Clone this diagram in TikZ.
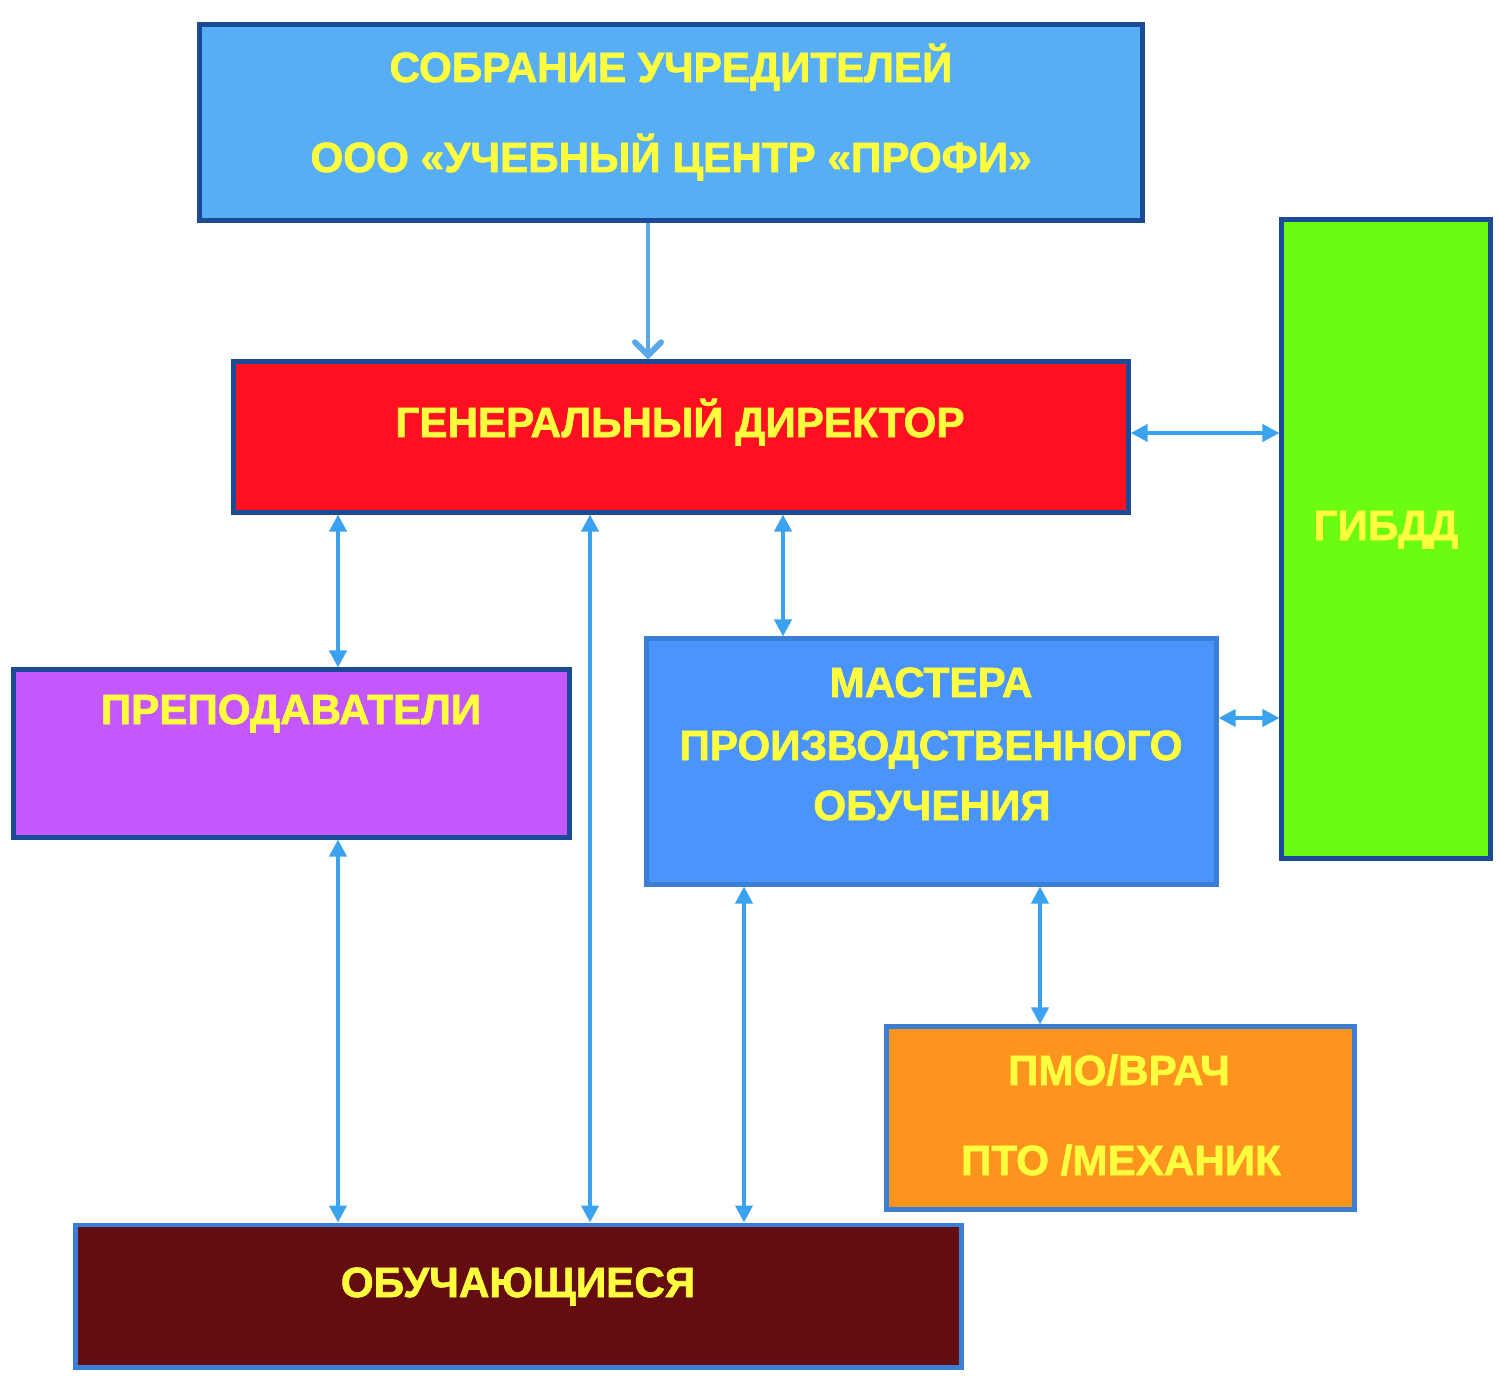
\documentclass[tikz,border=0pt]{standalone}
\usepackage{fontspec}
\setmainfont{Liberation Sans}
\newfontfamily\heavyfont{Liberation Sans Bold}[FakeBold=1.6]
\usetikzlibrary{arrows.meta}
\definecolor{sobrFill}{HTML}{58AEF5}
\definecolor{dirFill}{HTML}{FF1020}
\definecolor{gibddFill}{HTML}{6CFC12}
\definecolor{prepFill}{HTML}{C558FD}
\definecolor{masterFill}{HTML}{4A94FC}
\definecolor{pmoFill}{HTML}{FC941E}
\definecolor{obuchFill}{HTML}{640D11}
\definecolor{darkBorder}{HTML}{1B4A96}
\definecolor{lightBorder}{HTML}{3A7ED6}
\definecolor{linkCol}{HTML}{3AA2EE}
\definecolor{topLink}{HTML}{5AAAEA}
\definecolor{textYellow}{HTML}{FFFF40}
\tikzset{
  box/.style={draw=darkBorder, line width=1.4pt, inner sep=0pt},
  lbox/.style={box, draw=lightBorder},
  lbl/.style={anchor=base, inner sep=0pt, text=textYellow,
    font=\fontsize{12}{14}\heavyfont},
  link/.style={draw=linkCol, line width=1.1pt,
    {Triangle[length=0.17cm,width=0.17cm]}-{Triangle[length=0.17cm,width=0.17cm]}},
}
\begin{document}
\begin{tikzpicture}[x=0.01cm,y=-0.01cm]
\useasboundingbox (0,0) rectangle (1500,1385);
% boxes
\node [box, fill=sobrFill, minimum width=9.42cm, minimum height=1.95cm] (sobr) at (671,122.5) {};
\node [box, fill=dirFill, minimum width=8.94cm, minimum height=1.5cm] (dir) at (681,437) {};
\node [box, fill=gibddFill, minimum width=2.08cm, minimum height=6.38cm] (gibdd) at (1386,539) {};
\node [box, fill=prepFill, minimum width=5.55cm, minimum height=1.67cm] (prep) at (291.5,753.5) {};
\node [lbox, fill=masterFill, minimum width=5.69cm, minimum height=2.45cm] (master) at (931.5,761.5) {};
\node [lbox, fill=pmoFill, minimum width=4.67cm, minimum height=1.82cm] (pmo) at (1120.5,1118) {};
\node [lbox, fill=obuchFill, minimum width=8.85cm, minimum height=1.42cm] (obuch) at (518.5,1296) {};
% texts
\node [lbl] (sobrA) at (671,82) {СОБРАНИЕ УЧРЕДИТЕЛЕЙ};
\node [lbl] (sobrB) at (671,172) {ООО «УЧЕБНЫЙ ЦЕНТР «ПРОФИ»};
\node [lbl] (dirT) at (680,437) {ГЕНЕРАЛЬНЫЙ ДИРЕКТОР};
\node [lbl] (gibddT) at (1386,540) {ГИБДД};
\node [lbl] (prepT) at (291,724) {ПРЕПОДАВАТЕЛИ};
\node [lbl] (masterA) at (931,697) {МАСТЕРА};
\node [lbl] (masterB) at (931,760) {ПРОИЗВОДСТВЕННОГО};
\node [lbl] (masterC) at (932,820) {ОБУЧЕНИЯ};
\node [lbl] (pmoA) at (1119,1085) {ПМО/ВРАЧ};
\node [lbl] (pmoB) at (1121,1175) {ПТО /МЕХАНИК};
\node [lbl] (obuchT) at (518,1297) {ОБУЧАЮЩИЕСЯ};
% connectors
\draw [draw=topLink, line width=1.1pt, -{Straight Barb[length=0.13cm,width=0.26cm,line width=1.7pt,line cap=round]}]
  (648,0 |- sobr.south) -- (648,0 |- dir.north);
\draw [link] (0,433 -| dir.east) -- (0,433 -| gibdd.west);
\draw [link] (0,718 -| master.east) -- (0,718 -| gibdd.west);
\draw [link] (338,0 |- dir.south) -- (338,0 |- prep.north);
\draw [link] (590,0 |- dir.south) -- (590,0 |- obuch.north);
\draw [link] (783,0 |- dir.south) -- (783,0 |- master.north);
\draw [link] (338,0 |- prep.south) -- (338,0 |- obuch.north);
\draw [link] (744,0 |- master.south) -- (744,0 |- obuch.north);
\draw [link] (1040,0 |- master.south) -- (1040,0 |- pmo.north);
\end{tikzpicture}
\end{document}
